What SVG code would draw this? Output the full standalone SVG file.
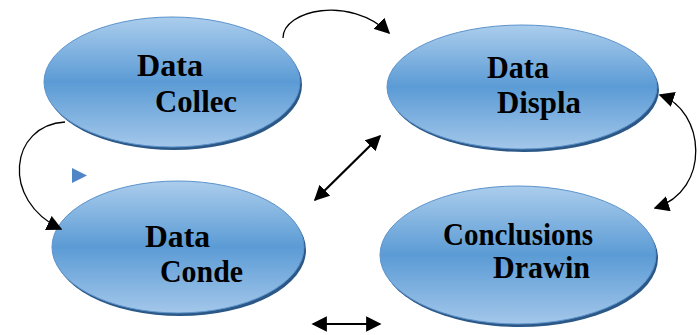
<svg xmlns="http://www.w3.org/2000/svg" width="700" height="335" viewBox="0 0 700 335">
  <defs>
    <linearGradient id="bubble" x1="0" y1="0" x2="0" y2="1">
      <stop offset="0" stop-color="#abcdec"/>
      <stop offset="0.5" stop-color="#5b9bd5"/>
      <stop offset="1" stop-color="#a3c7ea"/>
    </linearGradient>
    <marker id="head" viewBox="0 0 10 10" refX="9" refY="5" markerWidth="7" markerHeight="7" orient="auto-start-reverse" markerUnits="strokeWidth">
      <path d="M0,0 L10,5 L0,10 Z" fill="#000"/>
    </marker>
    <marker id="headThin" viewBox="0 0 10 10" refX="9" refY="5" markerWidth="12" markerHeight="12" orient="auto-start-reverse" markerUnits="strokeWidth">
      <path d="M0,0 L10,5 L0,10 Z" fill="#000"/>
    </marker>
  </defs>
  <style>
    .shadow { fill: #2b5887; }
    .bubble { fill: url(#bubble); stroke: #5c93cc; stroke-width: 1; }
    text { font-family: "Liberation Serif", "Times New Roman", serif; font-weight: 700; font-size: 32px; fill: #000; }
    .arc { fill: none; stroke: #000; stroke-width: 1.3; }
    .dbl { fill: none; stroke: #000; stroke-width: 2.2; }
  </style>

  <g id="node-collect">
    <ellipse class="shadow" cx="174" cy="85" rx="128" ry="65"/>
    <ellipse class="bubble" cx="172" cy="82" rx="128" ry="65"/>
    <text x="137" y="76" textLength="66" lengthAdjust="spacingAndGlyphs">Data</text>
    <text x="155" y="112" textLength="82" lengthAdjust="spacingAndGlyphs">Collec</text>
  </g>

  <g id="node-display">
    <ellipse class="shadow" cx="524" cy="90" rx="135" ry="62"/>
    <ellipse class="bubble" cx="522" cy="87" rx="135" ry="62"/>
    <text x="487" y="78" textLength="62" lengthAdjust="spacingAndGlyphs">Data</text>
    <text x="497" y="113" textLength="84" lengthAdjust="spacingAndGlyphs">Displa</text>
  </g>

  <g id="node-condense">
    <ellipse class="shadow" cx="180" cy="250" rx="126" ry="66"/>
    <ellipse class="bubble" cx="178" cy="247" rx="126" ry="66"/>
    <text x="145" y="247" textLength="65" lengthAdjust="spacingAndGlyphs">Data</text>
    <text x="160" y="282" textLength="83" lengthAdjust="spacingAndGlyphs">Conde</text>
  </g>

  <g id="node-conclusions">
    <ellipse class="shadow" cx="520" cy="258" rx="138" ry="69"/>
    <ellipse class="bubble" cx="518" cy="255" rx="138" ry="69"/>
    <text x="443" y="245" textLength="150" lengthAdjust="spacingAndGlyphs">Conclusions</text>
    <text x="493" y="278" textLength="97" lengthAdjust="spacingAndGlyphs">Drawin</text>
  </g>

  <g id="connectors">
    <!-- collect to display, over the top -->
    <path class="arc" d="M283,38 C283,10 350,-5 389,33" marker-end="url(#headThin)"/>
    <!-- collect to condense, around the left -->
    <path class="arc" d="M65,122 C10,125 0,200 61,229" marker-end="url(#headThin)"/>
    <!-- display and conclusions, around the right -->
    <path class="arc" d="M660,95 C705,110 712,190 655,208" marker-start="url(#headThin)" marker-end="url(#headThin)"/>
    <!-- display and condense, diagonal -->
    <path class="dbl" d="M315,200 L380,136" marker-start="url(#head)" marker-end="url(#head)"/>
    <!-- condense and conclusions, bottom -->
    <path class="dbl" d="M313,324 L380,324" marker-start="url(#head)" marker-end="url(#head)"/>
    <!-- small pointer -->
    <polygon points="72,168 87,175.5 72,183" fill="#4f86c6"/>
  </g>
</svg>
